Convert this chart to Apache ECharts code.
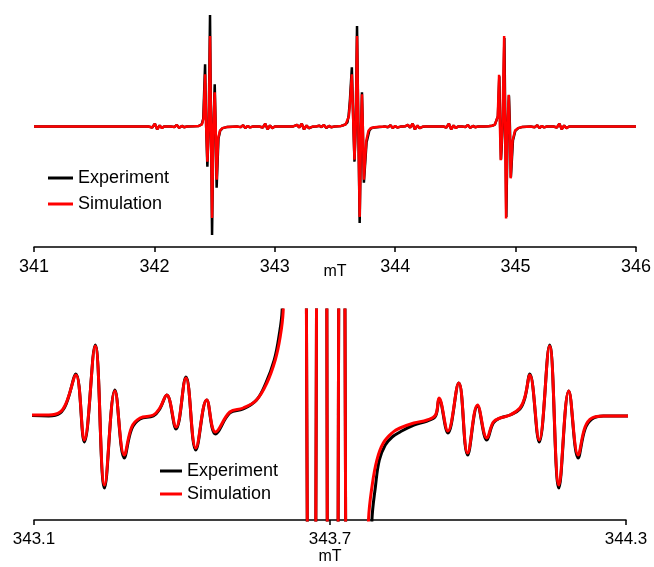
<!DOCTYPE html>
<html>
<head>
<meta charset="utf-8">
<script src="https://cdn.jsdelivr.net/npm/echarts@6/dist/echarts.min.js"></script>
<style>
  html, body { margin: 0; padding: 0; background: #fff; }
  #chart { width: 654px; height: 567px; }
</style>
</head>
<body>
<div id="chart"></div>
<script>
// field in mT, signal in arbitrary units (derivative EPR spectrum)
var edgeStart = [[341.0, 0], [341.90, 0]];
var edgeEnd = [[345.50, 0], [346.0, 0]];

// 13C/33S satellite wiggles around the outer lines (same for both traces at this scale)
var sat1Left = [[341.950, 0], [341.965, 40], [341.982, -25], [342.004, 69], [342.023, -70], [342.044, 24], [342.063, -40], [342.080, 0],
  [342.135, 0], [342.147, 20], [342.166, -12], [342.186, 37], [342.206, -33], [342.228, 15], [342.246, -17], [342.270, 0]];
var sat1Right = [[342.697, 17], [342.715, -16], [342.737, 32], [342.755, -38], [342.775, 10], [342.794, -23], [342.820, 0],
  [342.870, 0], [342.881, 40], [342.900, -25], [342.921, 69], [342.940, -70], [342.960, 24], [342.979, -40], [343.000, 0]];
var sat3Left = [[344.330, 0], [344.400, 0], [344.408, 40], [344.425, -25], [344.446, 69], [344.465, -70], [344.485, 24], [344.504, -40], [344.522, 0],
  [344.555, 0], [344.565, 20], [344.584, -12], [344.604, 37], [344.624, -33], [344.646, 15], [344.664, -17], [344.690, 0]];
var sat3Right = [[345.140, 17], [345.158, -16], [345.180, 32], [345.198, -38], [345.218, 10], [345.237, -23], [345.260, 0],
  [345.315, 0], [345.324, 40], [345.343, -25], [345.364, 69], [345.383, -70], [345.403, 24], [345.422, -40], [345.445, 0]];

// low-field line
var exp1 = [[342.330, 5], [342.368, 15], [342.393, 50], [342.406, 200], [342.421, 1550], [342.430, 0], [342.440, -1000], [342.451, 0],
  [342.462, 2775], [342.470, 0], [342.479, -2700], [342.490, 0], [342.501, 1050], [342.509, 0], [342.517, -1525], [342.532, -300],
  [342.547, -100], [342.567, -40], [342.600, -15], [342.650, -5], [342.685, 0]];
var sim1 = [[342.330, 5], [342.370, 15], [342.395, 50], [342.408, 200], [342.421, 1300], [342.430, 0], [342.440, -875], [342.451, 0],
  [342.462, 2250], [342.470, 0], [342.479, -2275], [342.490, 0], [342.501, 850], [342.509, 0], [342.517, -1325], [342.530, -300],
  [342.545, -100], [342.565, -40], [342.600, -15], [342.650, -5], [342.685, 0]];

// centre line with its satellites (zoomed in the lower panel)
var exp2 = [[343.060, 0], [343.130, -1], [343.153, 2], [343.166, 12], [343.185, 41], [343.202, -27], [343.224, 70], [343.243, -73],
  [343.264, 25], [343.283, -43], [343.298, -14], [343.315, -4], [343.342, -1], [343.355, 6], [343.369, 20], [343.388, -14],
  [343.408, 38], [343.428, -35], [343.450, 15], [343.468, -19], [343.497, 2], [343.524, 6], [343.551, 15], [343.570, 32],
  [343.587, 55], [343.597, 80], [343.603, 105], [343.613, 260], [343.624, 650], [343.640, 1475], [343.653, 0], [343.662, -875],
  [343.672, 0], [343.683, 2500], [343.694, 0], [343.705, -2400], [343.717, 0], [343.724, 850], [343.731, 0], [343.740, -1400],
  [343.762, -400], [343.785, -105], [343.792, -72], [343.800, -45], [343.812, -30], [343.826, -22], [343.842, -17], [343.870, -10],
  [343.897, -6], [343.914, -1], [343.921, 16], [343.939, -18], [343.961, 32], [343.979, -40], [343.999, 9], [344.018, -25],
  [344.031, -8], [344.045, -3], [344.065, 0], [344.085, 6], [344.095, 17], [344.105, 41], [344.124, -27], [344.145, 70],
  [344.164, -73], [344.184, 24], [344.203, -43], [344.217, -14], [344.231, -4], [344.254, -1], [344.298, -1]];
var sim2 = [[343.060, 0], [343.130, 0], [343.153, 3], [343.166, 13], [343.185, 40], [343.202, -25], [343.224, 69], [343.243, -70],
  [343.264, 24], [343.283, -40], [343.298, -12], [343.315, -3], [343.342, 0], [343.355, 7], [343.369, 20], [343.388, -12],
  [343.408, 37], [343.428, -33], [343.450, 15], [343.468, -17], [343.497, 3], [343.524, 7], [343.551, 15], [343.572, 32],
  [343.589, 55], [343.599, 78], [343.605, 103], [343.615, 250], [343.625, 600], [343.640, 1300], [343.653, 0], [343.662, -825],
  [343.672, 0], [343.683, 2250], [343.694, 0], [343.705, -2250], [343.717, 0], [343.724, 800], [343.731, 0], [343.740, -1325],
  [343.760, -350], [343.778, -105], [343.785, -72], [343.795, -45], [343.808, -28], [343.828, -17], [343.842, -13], [343.870, -8],
  [343.897, -5], [343.914, 0], [343.921, 17], [343.939, -16], [343.961, 32], [343.979, -38], [343.999, 10], [344.018, -23],
  [344.031, -7], [344.045, -3], [344.065, 0], [344.085, 7], [344.095, 18], [344.105, 40], [344.124, -25], [344.145, 69],
  [344.164, -70], [344.184, 24], [344.203, -40], [344.217, -12], [344.231, -3], [344.254, -1], [344.298, -1]];

// high-field line
var exp3 = [[344.740, 3], [344.775, 8], [344.805, 18], [344.828, 45], [344.843, 90], [344.853, 250], [344.865, 1250], [344.872, 0],
  [344.879, -820], [344.893, 0], [344.907, 2200], [344.915, 0], [344.923, -2250], [344.934, 0], [344.945, 770], [344.953, 0],
  [344.961, -1260], [344.978, -350], [344.998, -105], [345.023, -40], [345.053, -15], [345.092, -5], [345.125, 0]];
var sim3 = [[344.740, 3], [344.775, 8], [344.805, 18], [344.828, 45], [344.842, 90], [344.852, 250], [344.863, 1290], [344.870, 0],
  [344.877, -840], [344.891, 0], [344.905, 2250], [344.913, 0], [344.921, -2290], [344.932, 0], [344.943, 790], [344.951, 0],
  [344.959, -1290], [344.975, -350], [344.995, -105], [345.020, -40], [345.050, -15], [345.090, -5], [345.125, 0]];

var bottomTicks = [343.1, 343.7, 344.3];

var expAll = [].concat(edgeStart, sat1Left, exp1, sat1Right, exp2, sat3Left, exp3, sat3Right, edgeEnd);
var simAll = [].concat(edgeStart, sat1Left, sim1, sat1Right, sim2, sat3Left, sim3, sat3Right, edgeEnd);

var font = 'Liberation Sans, Arial, sans-serif';
var chart = echarts.init(document.getElementById('chart'));

function xAxisCommon(extra) {
  var ax = {
    type: 'value',
    axisLine: {onZero: false, lineStyle: {color: '#000', width: 1.5}},
    axisTick: {length: 5, lineStyle: {color: '#000', width: 1.5}},
    splitLine: {show: false},
    name: 'mT',
    nameLocation: 'middle',
    nameMoveOverlap: false,
    nameTextStyle: {color: '#000', fontFamily: font, fontSize: 16}
  };
  for (var k in extra) ax[k] = extra[k];
  return ax;
}

var option = {
  animation: false,
  backgroundColor: '#fff',
  grid: [
    {left: 34, right: 16, top: 6, height: 241},
    {left: 34, right: 28, top: 310, height: 210}
  ],
  legend: [
    {left: 43, top: 164, orient: 'vertical', icon: 'rect', itemWidth: 25, itemHeight: 3, itemGap: 8,
      textStyle: {color: '#000', fontSize: 18, fontFamily: font}, data: ['Experiment', 'Simulation']},
    {left: 155, top: 457, orient: 'vertical', icon: 'rect', itemWidth: 22, itemHeight: 3, itemGap: 5,
      textStyle: {color: '#000', fontSize: 18, fontFamily: font}, data: ['Experiment', 'Simulation']}
  ],
  xAxis: [
    xAxisCommon({gridIndex: 0, min: 341, max: 346, interval: 1, nameGap: 17,
      axisLabel: {color: '#000', fontSize: 18, fontFamily: font, margin: 11}}),
    xAxisCommon({gridIndex: 1, min: 343.1, max: 344.3, nameGap: 29,
      axisTick: {length: 5, customValues: bottomTicks, lineStyle: {color: '#000', width: 1.5}},
      axisLabel: {color: '#000', fontSize: 17, fontFamily: font, margin: 11, customValues: bottomTicks,
        formatter: function (v) { return v.toFixed(1); }}})
  ],
  yAxis: [
    {gridIndex: 0, type: 'value', min: -3000, max: 3000, show: false},
    {gridIndex: 1, type: 'value', min: -105, max: 105, show: false}
  ],
  series: [
    {name: 'Experiment', type: 'line', xAxisIndex: 0, yAxisIndex: 0, data: expAll, symbol: 'none',
      lineStyle: {color: '#000', width: 2.5}, itemStyle: {color: '#000'}},
    {name: 'Simulation', type: 'line', xAxisIndex: 0, yAxisIndex: 0, data: simAll, symbol: 'none',
      lineStyle: {color: '#ff0000', width: 2.5}, itemStyle: {color: '#ff0000'}},
    {name: 'Experiment', type: 'line', xAxisIndex: 1, yAxisIndex: 1, data: expAll, symbol: 'none', smooth: 0.4,
      clip: true, lineStyle: {color: '#000', width: 3}, itemStyle: {color: '#000'}},
    {name: 'Simulation', type: 'line', xAxisIndex: 1, yAxisIndex: 1, data: simAll, symbol: 'none', smooth: 0.4,
      clip: true, lineStyle: {color: '#ff0000', width: 3}, itemStyle: {color: '#ff0000'}}
  ]
};
chart.setOption(option);
</script>
</body>
</html>
